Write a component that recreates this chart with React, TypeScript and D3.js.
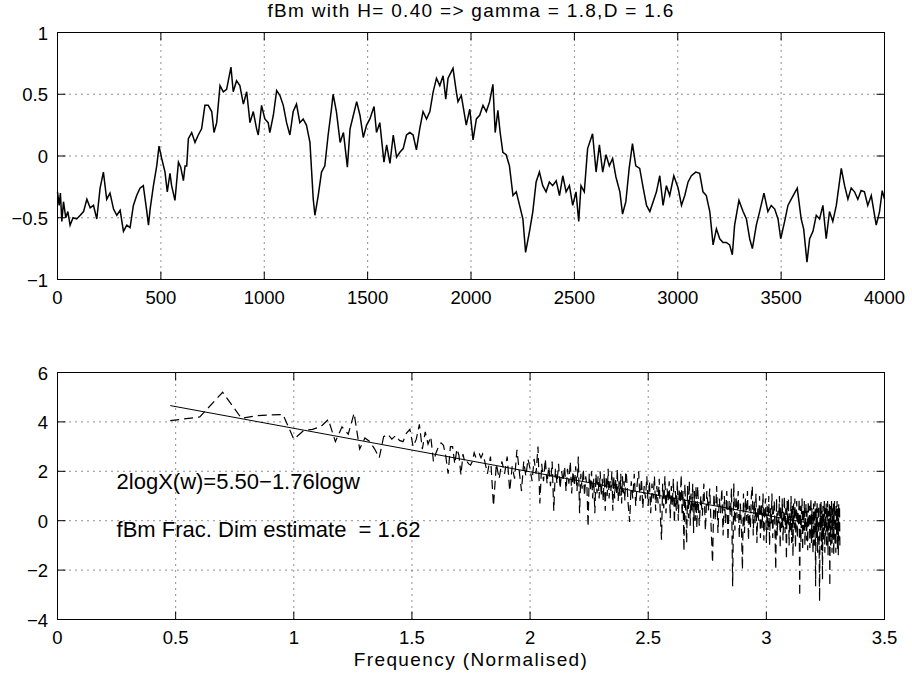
import React from "react";
import * as d3 from "d3";

// ---------- top panel: fBm sample path ----------
const fbmTime = [
  0, 8, 14, 21, 29, 40, 50, 61, 75, 93,
  110, 126, 142, 158, 174, 190, 206, 222, 238, 254,
  271, 287, 303, 319, 335, 351, 367, 383, 399, 415,
  432, 440, 448, 464, 480, 491, 504, 520, 531, 544,
  552, 568, 585, 596, 609, 617, 625, 633, 649, 665,
  681, 697, 713, 729, 746, 757, 770, 786, 802, 818,
  839, 850, 866, 882, 899, 915, 931, 947, 963, 971,
  987, 1003, 1019, 1027, 1044, 1060, 1076, 1092, 1108, 1124,
  1140, 1156, 1172, 1188, 1204, 1221, 1237, 1245, 1261, 1277,
  1293, 1309, 1325, 1333, 1349, 1367, 1383, 1402, 1415, 1431,
  1447, 1463, 1479, 1495, 1511, 1531, 1543, 1559, 1579, 1592,
  1608, 1624, 1640, 1656, 1672, 1688, 1704, 1720, 1736, 1752,
  1768, 1785, 1801, 1817, 1833, 1849, 1865, 1878, 1889, 1913,
  1929, 1937, 1953, 1969, 1977, 1994, 2010, 2026, 2042, 2058,
  2074, 2090, 2106, 2117, 2130, 2141, 2154, 2170, 2186, 2203,
  2219, 2235, 2251, 2264, 2283, 2299, 2315, 2331, 2347, 2363,
  2379, 2395, 2412, 2428, 2444, 2460, 2476, 2492, 2508, 2521,
  2532, 2548, 2564, 2588, 2605, 2621, 2637, 2653, 2669, 2685,
  2701, 2720, 2733, 2749, 2765, 2781, 2797, 2816, 2833, 2849,
  2865, 2881, 2897, 2913, 2929, 2945, 2961, 2981, 3002, 3018,
  3034, 3050, 3066, 3087, 3106, 3122, 3138, 3155, 3171, 3187,
  3203, 3219, 3235, 3251, 3264, 3275, 3296, 3316, 3332, 3348,
  3361, 3380, 3396, 3417, 3436, 3452, 3469, 3485, 3498, 3517,
  3533, 3549, 3578, 3597, 3609, 3625, 3638, 3654, 3670, 3686,
  3702, 3718, 3734, 3750, 3767, 3791, 3807, 3823, 3839, 3855,
  3871, 3887, 3903, 3919, 3936, 3960, 3976, 3989, 4000,
];
const fbmValue = [
  -0.29, -0.4, -0.3, -0.53, -0.37, -0.5, -0.45, -0.56, -0.5, -0.51,
  -0.48, -0.45, -0.35, -0.42, -0.4, -0.51, -0.26, -0.13, -0.35, -0.3,
  -0.43, -0.48, -0.44, -0.61, -0.56, -0.58, -0.4, -0.32, -0.26, -0.24,
  -0.45, -0.56, -0.43, -0.24, -0.08, 0.08, -0.02, -0.13, -0.29, -0.14,
  -0.24, -0.36, -0.05, -0.09, -0.2, -0.08, -0.08, 0.14, 0.19, 0.11,
  0.17, 0.22, 0.41, 0.41, 0.36, 0.19, 0.27, 0.57, 0.52, 0.54,
  0.72, 0.52, 0.61, 0.57, 0.42, 0.52, 0.27, 0.36, 0.22, 0.17,
  0.41, 0.3, 0.27, 0.19, 0.33, 0.53, 0.49, 0.41, 0.27, 0.17,
  0.36, 0.42, 0.27, 0.3, 0.25, 0.11, -0.35, -0.48, -0.32, -0.13,
  -0.08, 0.17, 0.38, 0.5, 0.36, 0.11, 0.19, -0.09, 0.22, 0.33,
  0.44, 0.33, 0.15, 0.25, 0.3, 0.4, 0.19, 0.27, -0.05, 0.09,
  -0.06, 0.17, -0.01, 0.03, 0.06, 0.17, 0.19, 0.17, 0.05, 0.22,
  0.36, 0.3, 0.36, 0.52, 0.63, 0.57, 0.65, 0.46, 0.63, 0.71,
  0.52, 0.44, 0.49, 0.33, 0.25, 0.38, 0.13, 0.3, 0.33, 0.41,
  0.36, 0.44, 0.58, 0.19, 0.37, 0.19, 0.03, 0.01, -0.08, -0.32,
  -0.29, -0.4, -0.51, -0.78, -0.61, -0.45, -0.21, -0.13, -0.24, -0.29,
  -0.21, -0.24, -0.2, -0.32, -0.16, -0.29, -0.24, -0.4, -0.29, -0.53,
  -0.24, -0.29, 0.06, 0.18, -0.13, 0.09, -0.13, 0.01, -0.08, -0.02,
  -0.17, -0.29, -0.47, -0.37, -0.1, 0.1, -0.08, -0.1, -0.26, -0.4,
  -0.45, -0.37, -0.29, -0.16, -0.4, -0.24, -0.32, -0.16, -0.26, -0.4,
  -0.32, -0.21, -0.16, -0.13, -0.14, -0.29, -0.32, -0.45, -0.72, -0.59,
  -0.67, -0.7, -0.7, -0.72, -0.8, -0.56, -0.36, -0.45, -0.51, -0.67,
  -0.75, -0.56, -0.45, -0.3, -0.45, -0.4, -0.43, -0.51, -0.67, -0.53,
  -0.4, -0.35, -0.26, -0.51, -0.59, -0.86, -0.67, -0.61, -0.48, -0.51,
  -0.4, -0.67, -0.45, -0.53, -0.4, -0.1, -0.24, -0.35, -0.26, -0.29,
  -0.35, -0.28, -0.29, -0.4, -0.32, -0.56, -0.45, -0.28, -0.35,
];

// ---------- bottom panel: log periodogram ----------
// frequency bins k (x = log10 k), read in four runs of bins
const specFirstBin = [3, 64, 256, 512];
const specBinStep = [1, 2, 4, 8];
const specRunA = [
  4.05, 4.2, 5.2, 4.15, 4.25, 4.28, 4.3, 3.3, 3.65, 3.7, 3.8, 4.1, 3.2,
  3.8, 3.5, 4.35, 2.9, 3.35, 3.2, 2.9, 2.55, 3.4, 3.5,
  3.3, 3.45, 3.25, 3.2, 3.55, 3.7, 3.0, 3.3, 3.9, 2.9,
  3.6, 3.1, 3.4, 2.4, 2.75, 3.0, 3.15, 3.05, 2.6, 1.9,
  3.0, 3.0, 2.3, 2.9, 2.65, 1.85, 2.7, 2.35, 2.4, 2.3,
  2.25, 2.4, 2.75, 2.55, 2.65, 2.7, 2.55, 2.7,
];
const specRunB = [
  2.5, 1.9, 2.6, 0.6, 2.3, 1.7, 2.4, 1.9, 2.6, 1.2,
  2.2, 1.7, 2.87, 2.0, 1.2, 2.4, 1.8, 2.5, 2.1, 1.6,
  2.5, 1.9, 3.0, 0.7, 2.3, 1.6, 2.5, 1.5, 2.2, 1.4,
  2.4, 0.4, 2.1, 1.5, 2.3, 1.3, 2.0, 1.6, 2.2, 1.2,
  2.1, 1.5, 2.4, 1.1, 2.0, 1.4, 2.2, 1.2, 2.6, 0.3,
  1.9, 1.3, 2.1, 1.0, 1.8, 1.4, -0.25, 1.9, 1.2, 2.0,
  0.9, 1.7, 0.3, 1.9, 1.1, 1.8, 0.9, 2.0, 1.0, 1.7,
  0.8, 1.9, 0.4, 1.8, 1.0, 2.1, 0.9, 1.6, 1.2, 2.0,
  0.4, 1.8, 0.9, 1.7, 1.1, 2.1, 0.8, 1.6, 1.0, 1.9,
  0.7, 1.8, 1.1, 1.6, 0.8, 2.0,
];
const specRunC = [
  1.8, 0.7, -0.05, 1.6, 0.9, 1.9, 0.6, 1.5, 2.0, 0.8,
  1.7, 0.5, 1.4, 0.9, 1.8, 0.6, 1.6, 0.3, 1.5, 0.9,
  1.8, 0.4, 1.4, 0.7, 1.7, 0.2, -0.77, 1.5, 0.5, 1.8,
  0.3, 1.3, 0.8, 1.6, 0.1, 1.4, 0.6, 1.7, -0.1, 1.2,
  0.4, 1.6, 0.0, 1.3, 0.7, 1.86, 0.2, 1.2, -1.24, 1.5,
  0.3, -0.9, 1.4, 0.1, 1.6, -0.2, 1.1, 0.4, 1.5, -0.5,
  1.2, 0.0, 1.4, -0.3,
];
const specRunD = [
  1.4, -0.2, 1.0, 0.2, 1.5, -0.4, 1.2, 0.4, 1.3, -0.3,
  -1.7, 1.1, 0.0, 1.4, -0.5, 0.9, 0.3, 1.3, -0.6, 1.0,
  -0.1, 1.2, -0.8, 0.8, 0.2, 1.3, -2.65, 1.52, -0.4, 1.0,
  0.1, 1.2, -0.7, 0.7, -0.2, -1.98, 1.1, -0.5, 0.9, 0.0,
  1.2, -0.8, 0.6, -0.3, 1.0, 1.4, -0.6, 0.8, -0.1, 1.1,
  -0.9, 0.5, 0.0, 1.0, -0.7, 0.7, -0.3, 1.1, -0.8, 0.4,
  0.9, -0.9, 0.6, -0.4, 1.0, -1.0, 0.5, -0.2, 1.1, -0.7,
  0.3, 0.8, -0.5, -1.98, 0.9, -0.6, 0.4, -0.1, 1.0, -1.1,
  0.6, -0.3, 0.9, -0.8, 0.2, 1.0, -0.5, 0.5, -1.57, 0.8,
  -0.2, 0.9, -1.0, 0.3, -0.4, 1.0, -0.9, 0.6, -1.45, 0.7,
  -0.3, 0.9, -1.1, 0.2, 0.8, -0.7, 0.4, -0.2, 0.9, -3.06,
  0.6, -0.9, 0.3, 0.9, -1.2, 0.5, -0.4, 0.8, -1.0, 0.1,
  0.7, -0.8, 0.4, -1.2, 0.8, -0.3, 0.6, -1.1, 0.2, 0.9,
  -0.9, 0.5, -0.5, -1.3, 0.7, -1.0, 0.3, 0.8, -2.65, 0.5,
  -0.7, 0.8, -1.3, 0.2, 0.6, -0.9, -3.26, 0.7, -0.4, 0.8,
  -1.2, 0.4, -2.38, 0.6, -0.8, 0.1, 0.8, -1.3, 0.5, -0.6,
  0.7, -1.1, 0.3, 0.8, -1.4, 0.4, -0.5, 0.7, -2.65, 0.6,
  -1.0, 0.2, 0.8, -1.3, 0.5, -0.7, 0.7, -1.4, 0.3, 0.8,
  -1.0, 0.4, -1.3, 0.6, -0.6, 0.8, -1.17, 0.5, -1.4, 0.7,
  -0.8, 0.6, -1.2,
];
const specRuns = [specRunA, specRunB, specRunC, specRunD];

// fitted line 2logX(w) = 5.50 - 1.76 logw
const fitIntercept = 5.5;
const fitSlope = -1.76;

// ticks
const topXTicks = [0, 500, 1000, 1500, 2000, 2500, 3000, 3500, 4000];
const topYTicks = [-1, -0.5, 0, 0.5, 1];
const botXTicks = [0, 0.5, 1, 1.5, 2, 2.5, 3, 3.5];
const botYTicks = [-4, -2, 0, 2, 4, 6];

const titleText = "fBm with H= 0.40 => gamma = 1.8,D = 1.6";
const xLabelText = "Frequency (Normalised)";
const noteFit = "2logX(w)=5.50\u22121.76logw";
const noteDim = "fBm Frac. Dim estimate  = 1.62";

const FONT = "'Liberation Sans', Arial, Helvetica, sans-serif";

const fmt = (v: number) => (v < 0 ? "\u2212" + String(Math.abs(v)) : String(v));

type Scale = d3.ScaleLinear<number, number>;

function Axes({ x, y, xTicks, yTicks }: { x: Scale; y: Scale; xTicks: number[]; yTicks: number[] }) {
  const [x0, x1] = x.range();
  const [y0, y1] = y.range(); // y0 bottom, y1 top
  const tl = 8;
  return (
    <g>
      {xTicks.map((t, i) => {
        const px = x(t);
        if (Math.abs(px - x0) < 1 || Math.abs(px - x1) < 1) return null;
        return <line key={"gx" + i} x1={px} x2={px} y1={y1} y2={y0} stroke="#222" strokeWidth={1} strokeDasharray="1,5" />;
      })}
      {yTicks.map((t, i) => {
        const py = y(t);
        if (Math.abs(py - y0) < 1 || Math.abs(py - y1) < 1) return null;
        return <line key={"gy" + i} x1={x0} x2={x1} y1={py} y2={py} stroke="#222" strokeWidth={1} strokeDasharray="1,5" />;
      })}
      {xTicks.map((t, i) => (
        <g key={"tx" + i}>
          <line x1={x(t)} x2={x(t)} y1={y0} y2={y0 - tl} stroke="#000" />
          <line x1={x(t)} x2={x(t)} y1={y1} y2={y1 + tl} stroke="#000" />
          <text x={x(t)} y={y0 + 24} textAnchor="middle" fontSize={18.5} fontFamily={FONT} fill="#000">
            {fmt(t)}
          </text>
        </g>
      ))}
      {yTicks.map((t, i) => (
        <g key={"ty" + i}>
          <line x1={x0} x2={x0 + tl} y1={y(t)} y2={y(t)} stroke="#000" />
          <line x1={x1} x2={x1 - tl} y1={y(t)} y2={y(t)} stroke="#000" />
          <text x={x0 - 9.5} y={y(t) + 7} textAnchor="end" fontSize={18.5} fontFamily={FONT} fill="#000">
            {fmt(t)}
          </text>
        </g>
      ))}
      <rect x={x0} y={y1} width={x1 - x0} height={y0 - y1} fill="none" stroke="#000" strokeWidth={1} />
    </g>
  );
}

export default function App() {
  const xTop = d3.scaleLinear().domain([0, 4000]).range([57.5, 884.5]);
  const yTop = d3.scaleLinear().domain([-1, 1]).range([279.5, 32.5]);
  const xBot = d3.scaleLinear().domain([0, 3.5]).range([57.5, 884.5]);
  const yBot = d3.scaleLinear().domain([-4, 6]).range([619.5, 372.5]);

  const topPts: [number, number][] = fbmTime.map((t, i) => [t, fbmValue[i]]);
  const specPts: [number, number][] = [];
  specRuns.forEach((run, r) => {
    run.forEach((v, i) => {
      const k = specFirstBin[r] + i * specBinStep[r];
      specPts.push([Math.log10(k), v]);
    });
  });
  const [fx0, fx1] = d3.extent(specPts, (d) => d[0]) as [number, number];
  const fitPts: [number, number][] = [fx0, fx1].map((lx) => [lx, fitIntercept + fitSlope * lx]);

  const topLine = d3
    .line<[number, number]>()
    .x((d) => xTop(d[0]))
    .y((d) => yTop(d[1]));
  const botLine = d3
    .line<[number, number]>()
    .x((d) => xBot(d[0]))
    .y((d) => yBot(d[1]));

  return (
    <svg
      width={912}
      height={677}
      viewBox="0 0 912 677"
      style={{ position: "absolute", left: 0, top: 0, background: "#fff" }}
    >
      <rect x={0} y={0} width={912} height={677} fill="#fff" />
      <Axes x={xTop} y={yTop} xTicks={topXTicks} yTicks={topYTicks} />
      <path d={topLine(topPts) || ""} fill="none" stroke="#000" strokeWidth={1.5} strokeLinejoin="miter" />
      <text x={471} y={17} textAnchor="middle" fontSize={19} letterSpacing={1.3} fontFamily={FONT} fill="#000">
        {titleText}
      </text>

      <Axes x={xBot} y={yBot} xTicks={botXTicks} yTicks={botYTicks} />
      <path d={botLine(specPts) || ""} fill="none" stroke="#000" strokeWidth={1.2} strokeDasharray="9,5" />
      <path d={botLine(fitPts) || ""} fill="none" stroke="#000" strokeWidth={1} />
      <text x={xBot(0.25)} y={yBot(1.27)} fontSize={22} fontFamily={FONT} fill="#000" style={{ whiteSpace: "pre" }}>
        {noteFit}
      </text>
      <text x={xBot(0.25)} y={yBot(-0.67)} fontSize={22} fontFamily={FONT} fill="#000" style={{ whiteSpace: "pre" }}>
        {noteDim}
      </text>
      <text x={471} y={666} textAnchor="middle" fontSize={19} letterSpacing={1.4} fontFamily={FONT} fill="#000">
        {xLabelText}
      </text>
    </svg>
  );
}
